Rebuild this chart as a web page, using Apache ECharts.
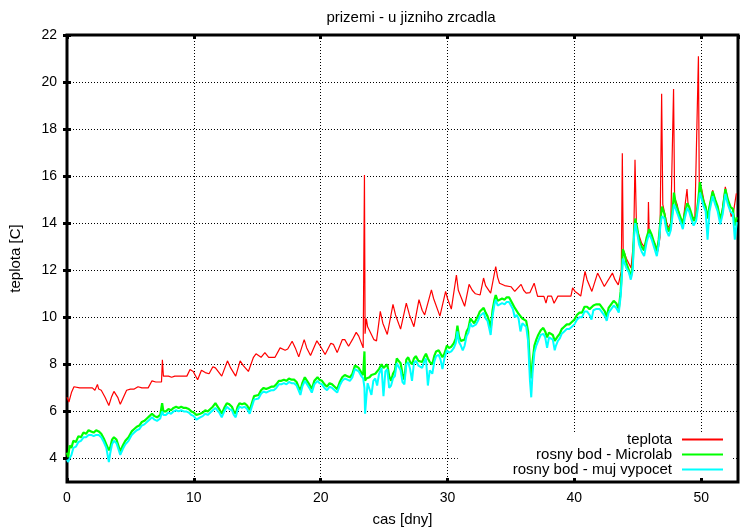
<!DOCTYPE html>
<html>
<head>
<meta charset="utf-8">
<script src="https://cdn.jsdelivr.net/npm/echarts@6/dist/echarts.min.js"></script>
<style>
html,body{margin:0;padding:0;background:#fff;}
#chart{width:741px;height:531px;}
</style>
</head>
<body>
<div id="chart"></div>
<script>
const titleText = 'prizemi - u jizniho zrcadla';
const xName = 'cas [dny]';
const yName = 'teplota [C]';
const seriesNames = ['teplota', 'rosny bod - Microlab', 'rosny bod - muj vypocet'];
const yTickValues = [4, 6, 8, 10, 12, 14, 16, 18, 20, 22];

// teplota (time [days], value)
const redT = [0.0,0.15,0.35,0.55,0.7,1.0,1.5,2.0,2.2,2.4,2.5,2.7,3.0,3.3,3.5,3.7,4.0,4.2,4.45,4.7,5.0,5.3,5.6,5.9,6.4,6.7,7.0,7.45,7.52,7.6,8.0,8.25,8.5,9.0,9.45,9.7,9.95,10.3,10.6,10.9,11.2,11.5,11.7,12.2,12.65,12.9,13.3,13.65,13.9,14.3,14.7,14.9,15.3,15.6,15.9,16.4,16.8,17.2,17.4,17.75,18.0,18.27,18.7,18.9,19.2,19.7,20.0,20.35,20.8,21.0,21.3,21.7,21.9,22.2,22.5,22.8,23.0,23.35,23.45,23.5,23.6,23.7,23.85,24.2,24.4,24.7,24.9,25.25,25.7,25.9,26.3,26.75,27.0,27.35,27.75,28.0,28.2,28.73,28.9,29.4,29.85,30.0,30.3,30.7,30.85,31.35,31.7,31.95,32.2,32.57,32.84,33.0,33.4,33.8,33.95,34.1,34.5,35.0,35.3,35.8,36.0,36.2,36.5,36.83,37.1,37.6,37.76,37.9,38.2,38.4,38.7,39.0,39.73,39.86,40.05,40.3,40.5,40.84,41.0,41.38,41.83,42.0,42.36,43.0,43.2,43.46,43.7,43.78,43.85,44.1,44.47,44.68,44.78,44.9,45.3,45.5,45.8,45.84,45.9,46.3,46.58,46.75,46.88,46.97,47.37,47.6,47.82,47.9,48.1,48.4,48.6,48.88,48.95,49.2,49.5,49.78,49.85,50.0,50.2,50.5,50.9,51.2,51.56,51.9,52.1,52.37,52.55,52.77];
const redV = [6.6,6.4,6.8,7.05,7.0,7.0,7.0,7.0,6.9,7.15,6.95,6.9,6.6,6.25,6.6,6.85,6.6,6.3,6.6,6.9,6.95,6.95,7.05,7.0,7.0,7.3,7.25,7.25,8.2,7.5,7.5,7.45,7.5,7.5,7.5,7.78,7.7,7.35,7.75,7.65,7.6,7.9,7.85,7.5,8.15,7.85,7.5,8.15,7.95,7.7,8.3,8.45,8.3,8.5,8.3,8.3,8.7,8.6,8.65,8.98,8.7,8.32,9.05,8.7,8.38,9.0,8.75,8.42,8.9,8.85,8.5,9.05,9.05,8.77,9.05,9.36,9.2,8.7,16.05,9.3,9.95,9.6,9.65,9.05,9.0,10.25,9.75,9.27,10.55,10.1,9.5,10.6,10.1,9.6,10.75,10.3,10.1,11.17,10.8,10.05,11.1,10.8,10.35,11.8,11.15,10.47,11.4,11.15,11.0,10.95,11.67,11.35,11.03,12.16,11.7,11.45,11.35,11.3,11.1,11.4,11.15,11.03,11.05,11.45,10.89,10.89,10.6,10.9,10.9,10.6,10.9,10.9,10.9,11.25,11.1,11.0,10.9,11.95,11.6,11.1,11.88,11.7,11.31,11.88,11.6,11.38,11.95,16.97,12.87,12.5,12.1,13.3,16.7,13.8,13.15,13.0,13.5,14.9,13.5,13.2,12.8,13.4,19.5,14.8,13.8,14.0,19.7,15.1,14.8,14.0,14.2,15.45,14.9,14.3,14.2,21.1,15.3,15.55,15.0,14.28,15.4,14.8,14.14,15.55,15.0,14.28,14.5,15.27];

// rosny bod (dew point) series share a time axis
const dewT = [0.0,0.1,0.2,0.35,0.5,0.7,0.9,1.1,1.3,1.5,1.7,1.9,2.1,2.3,2.5,2.7,2.9,3.1,3.3,3.4,3.55,3.7,3.9,4.05,4.2,4.4,4.6,4.85,5.1,5.3,5.5,5.7,5.9,6.1,6.3,6.5,6.7,6.9,7.1,7.35,7.5,7.6,7.8,8.0,8.2,8.4,8.6,8.8,9.0,9.2,9.4,9.6,9.8,10.0,10.2,10.35,10.5,10.7,10.9,11.1,11.3,11.5,11.7,11.85,12.0,12.2,12.4,12.6,12.8,13.0,13.15,13.3,13.45,13.6,13.8,14.0,14.2,14.4,14.55,14.75,14.9,15.1,15.3,15.5,15.7,15.9,16.1,16.3,16.5,16.7,16.9,17.1,17.3,17.5,17.7,17.9,18.1,18.25,18.4,18.55,18.75,18.9,19.1,19.3,19.5,19.75,19.9,20.1,20.3,20.5,20.7,20.9,21.1,21.3,21.5,21.7,21.9,22.1,22.3,22.5,22.7,22.85,23.0,23.2,23.35,23.45,23.5,23.6,23.7,23.85,24.0,24.15,24.3,24.45,24.6,24.8,24.95,25.1,25.25,25.4,25.55,25.7,25.85,26.0,26.15,26.3,26.45,26.6,26.75,26.9,27.05,27.2,27.35,27.5,27.7,27.85,28.0,28.15,28.3,28.45,28.6,28.8,28.95,29.1,29.3,29.45,29.6,29.75,29.95,30.1,30.3,30.5,30.65,30.78,30.9,31.05,31.2,31.35,31.5,31.65,31.8,31.95,32.1,32.25,32.4,32.55,32.7,32.85,33.0,33.15,33.3,33.4,33.55,33.7,33.8,33.95,34.1,34.3,34.5,34.65,34.85,35.0,35.15,35.3,35.45,35.6,35.75,35.9,36.05,36.2,36.35,36.5,36.6,36.7,36.85,37.0,37.15,37.35,37.55,37.7,37.85,38.0,38.15,38.3,38.45,38.55,38.7,38.85,39.0,39.2,39.4,39.6,39.8,40.0,40.2,40.4,40.6,40.8,41.0,41.2,41.35,41.5,41.7,41.85,42.0,42.2,42.4,42.55,42.7,42.9,43.1,43.3,43.5,43.65,43.75,43.82,43.95,44.1,44.3,44.45,44.6,44.7,44.8,44.95,45.1,45.3,45.5,45.7,45.9,46.1,46.3,46.5,46.65,46.8,46.9,47.1,47.25,47.45,47.6,47.75,47.85,48.0,48.2,48.4,48.55,48.7,48.9,49.05,49.2,49.4,49.6,49.75,49.9,50.05,50.2,50.35,50.5,50.65,50.9,51.1,51.3,51.5,51.7,51.9,52.1,52.3,52.5,52.65,52.8];
const dewMicrolab = [4.25,4.05,4.55,4.45,4.75,4.7,4.95,4.9,5.1,5.05,5.2,5.15,5.1,5.2,5.15,5.05,4.85,4.6,4.35,4.45,4.8,4.9,4.8,4.55,4.3,4.55,4.75,4.9,5.15,5.25,5.35,5.4,5.55,5.6,5.7,5.8,5.9,5.8,5.75,5.85,6.35,6.0,6.0,6.1,6.05,6.15,6.2,6.15,6.2,6.15,6.15,6.1,6.0,5.95,5.85,5.8,5.9,5.95,6.05,6.0,6.1,6.2,6.35,6.3,6.1,5.9,6.15,6.35,6.3,6.2,6.0,5.9,6.2,6.35,6.3,6.35,6.25,6.05,6.1,6.65,6.6,6.7,6.9,7.0,6.95,7.0,7.05,7.05,7.15,7.3,7.3,7.35,7.3,7.4,7.35,7.35,7.25,7.05,6.9,7.2,7.45,7.4,7.15,6.95,7.3,7.45,7.35,7.3,7.15,7.05,7.2,7.15,7.05,6.95,7.25,7.45,7.55,7.5,7.45,7.6,7.95,8.0,7.85,7.65,7.55,8.55,7.3,7.4,7.45,7.45,7.55,7.5,7.6,7.65,7.8,8.0,7.85,7.9,8.0,7.5,7.3,7.6,7.75,8.25,8.15,8.05,7.6,7.35,8.2,8.3,8.1,8.0,8.25,8.35,8.15,8.2,8.1,8.3,8.45,8.25,8.1,8.0,8.35,8.55,8.6,8.55,8.3,8.45,8.8,8.7,8.75,8.9,9.1,9.65,9.2,9.0,8.95,9.05,9.4,9.55,9.95,9.85,9.75,9.9,10.05,10.25,10.3,10.4,10.2,10.05,9.8,9.5,10.3,10.75,10.95,10.7,10.75,10.8,10.75,10.85,10.85,10.7,10.55,10.4,10.35,10.15,10.05,9.95,9.9,9.85,9.4,7.9,7.4,8.1,8.8,9.05,9.25,9.45,9.55,9.4,9.15,9.35,9.4,9.25,9.0,8.95,9.2,9.3,9.5,9.6,9.7,9.7,9.8,9.9,10.1,10.2,10.2,10.45,10.45,10.35,10.3,10.5,10.55,10.6,10.55,10.4,10.25,10.0,10.4,10.55,10.7,10.6,10.35,11.1,12.0,12.9,12.7,12.3,12.0,11.7,12.2,13.6,14.2,13.8,13.3,13.0,12.85,13.4,13.75,13.5,13.15,12.8,13.3,14.2,14.7,14.4,13.9,13.65,13.9,14.6,15.3,14.8,14.5,14.2,13.95,14.4,14.85,14.7,14.45,14.1,14.3,14.9,15.75,15.2,14.9,14.7,14.2,14.7,15.35,15.0,14.7,14.15,14.6,15.45,15.0,14.7,14.6,13.9,14.25];
const dewMuj = [3.95,3.85,4.0,4.15,4.45,4.5,4.7,4.75,4.9,4.9,5.0,5.0,4.95,5.0,5.0,4.9,4.7,4.45,3.85,4.2,4.6,4.75,4.65,4.4,4.15,4.4,4.6,4.75,5.0,5.1,5.2,5.25,5.4,5.45,5.55,5.65,5.75,5.65,5.6,5.7,6.0,5.85,5.85,5.95,5.9,6.0,6.05,6.0,6.05,6.0,6.0,5.95,5.85,5.8,5.65,5.7,5.75,5.8,5.9,5.85,5.95,6.05,6.15,6.15,5.95,5.75,6.0,6.2,6.1,6.05,5.85,5.75,6.05,6.2,6.15,6.2,6.1,5.9,5.95,6.5,6.45,6.55,6.75,6.85,6.8,6.85,6.9,6.9,7.0,7.15,7.15,7.2,7.15,7.25,7.2,7.2,7.1,6.9,6.7,7.05,7.3,7.25,7.0,6.8,7.15,7.3,7.2,7.15,7.0,6.9,7.05,7.0,6.9,6.8,7.1,7.3,7.4,7.35,7.3,7.45,7.8,7.85,7.7,7.5,7.4,7.0,5.9,6.6,7.2,7.25,6.7,7.3,7.4,7.1,7.6,7.85,6.65,7.7,7.8,7.0,7.1,7.4,7.5,8.05,7.9,7.75,7.25,7.15,8.0,8.1,7.8,7.3,8.05,8.15,7.95,7.9,7.85,8.1,8.25,7.1,7.75,7.6,8.1,8.35,8.4,8.2,7.8,8.25,8.6,8.5,8.55,8.7,8.9,9.4,8.95,8.8,8.6,8.8,9.2,9.35,9.75,9.6,9.55,9.7,9.85,10.05,10.1,10.2,9.95,9.85,9.5,9.25,10.05,10.55,10.75,10.5,10.55,10.6,10.55,10.65,10.65,10.5,10.35,10.0,10.1,9.95,9.4,9.75,9.7,9.6,9.0,7.3,6.6,7.6,8.5,8.8,9.0,9.25,9.3,9.15,8.7,9.15,9.2,9.05,8.6,8.8,9.0,9.1,9.3,9.4,9.5,9.5,9.6,9.7,9.9,10.0,10.0,10.25,10.25,10.1,9.9,10.3,10.35,10.4,10.35,10.2,10.05,9.85,10.2,10.35,10.5,10.4,10.2,10.9,11.8,12.5,12.5,12.1,11.9,11.6,12.0,13.4,14.0,13.6,13.1,12.8,12.6,13.2,13.55,13.3,12.95,12.6,13.1,14.0,14.3,14.2,13.7,13.45,13.7,14.4,14.8,14.6,14.3,14.0,13.75,14.2,14.65,14.5,14.2,13.9,14.1,14.7,15.3,15.0,14.7,14.5,13.3,14.5,15.15,14.8,14.5,13.95,14.4,15.25,14.8,14.5,14.4,13.3,14.05];

function zip(xs, ys) { return xs.map((x, i) => [x, ys[i]]); }

const chart = echarts.init(document.getElementById('chart'), null, { renderer: 'canvas' });
const font = 'Liberation Sans, Arial, Helvetica, sans-serif';
const gridDash = { color: '#000', width: 1, type: [1, 2] };

chart.setOption({
  animation: false,
  backgroundColor: '#fff',
  textStyle: { fontFamily: font },
  title: {
    text: titleText,
    left: 406,
    textAlign: 'center',
    top: 5,
    textStyle: { fontFamily: font, fontSize: 15, fontWeight: 'normal', color: '#000' }
  },
  legend: {
    orient: 'vertical',
    align: 'right',
    right: 8,
    top: 432,
    padding: [0, 10, 1, 55],
    backgroundColor: '#fff',
    itemGap: 0,
    itemWidth: 41,
    itemHeight: 2,
    icon: 'rect',
    data: seriesNames,
    textStyle: { fontFamily: font, fontSize: 15, color: '#000', lineHeight: 15, padding: [0, 5, 0, 0] }
  },
  grid: {
    left: 67, right: 3, top: 35, bottom: 49,
    outerBoundsMode: 'none', containLabel: false,
    show: true, borderColor: '#000', borderWidth: 3, backgroundColor: 'transparent'
  },
  xAxis: [{
    type: 'value', min: 0, max: 52.9, interval: 10, position: 'bottom',
    name: xName, nameLocation: 'middle', nameGap: 30,
    nameTextStyle: { fontFamily: font, fontSize: 15, color: '#000' },
    axisLine: { show: false },
    axisTick: { show: true, inside: true, length: 4, lineStyle: { color: '#000', width: 3 } },
    axisLabel: { color: '#000', fontFamily: font, fontSize: 14, margin: 9, showMaxLabel: false },
    splitLine: { show: true, lineStyle: gridDash }
  }, {
    type: 'value', min: 0, max: 52.9, interval: 10, position: 'top',
    axisLine: { show: false },
    axisTick: { show: true, inside: true, length: 4, lineStyle: { color: '#000', width: 3 } },
    axisLabel: { show: false },
    splitLine: { show: false }
  }],
  yAxis: [{
    type: 'value', min: 3, max: 22, position: 'left',
    name: yName, nameLocation: 'middle', nameGap: 44, nameRotate: 90,
    nameTextStyle: { fontFamily: font, fontSize: 15, color: '#000' },
    axisLine: { show: false },
    axisTick: { show: true, inside: true, length: 4, customValues: yTickValues, lineStyle: { color: '#000', width: 3 } },
    axisLabel: { color: '#000', fontFamily: font, fontSize: 14, margin: 10, customValues: yTickValues },
    splitLine: { show: true, lineStyle: gridDash }
  }, {
    type: 'value', min: 3, max: 22, position: 'right',
    axisLine: { show: false },
    axisTick: { show: true, inside: true, length: 4, customValues: yTickValues, lineStyle: { color: '#000', width: 3 } },
    axisLabel: { show: false, customValues: yTickValues },
    splitLine: { show: false }
  }],
  series: [{
    name: seriesNames[0], type: 'line', xAxisIndex: 0, yAxisIndex: 0,
    data: zip(redT, redV), showSymbol: false, symbol: 'none', sampling: 'none',
    color: '#ff0000', lineStyle: { color: '#ff0000', width: 1.2 }, z: 2
  }, {
    name: seriesNames[1], type: 'line', xAxisIndex: 0, yAxisIndex: 0,
    data: zip(dewT, dewMicrolab), showSymbol: false, symbol: 'none', sampling: 'none',
    color: '#00ff00', lineStyle: { color: '#00ff00', width: 2.2 }, z: 3
  }, {
    name: seriesNames[2], type: 'line', xAxisIndex: 0, yAxisIndex: 0,
    data: zip(dewT, dewMuj), showSymbol: false, symbol: 'none', sampling: 'none',
    color: '#00ffff', lineStyle: { color: '#00ffff', width: 2 }, z: 4
  }]
});
</script>
</body>
</html>
